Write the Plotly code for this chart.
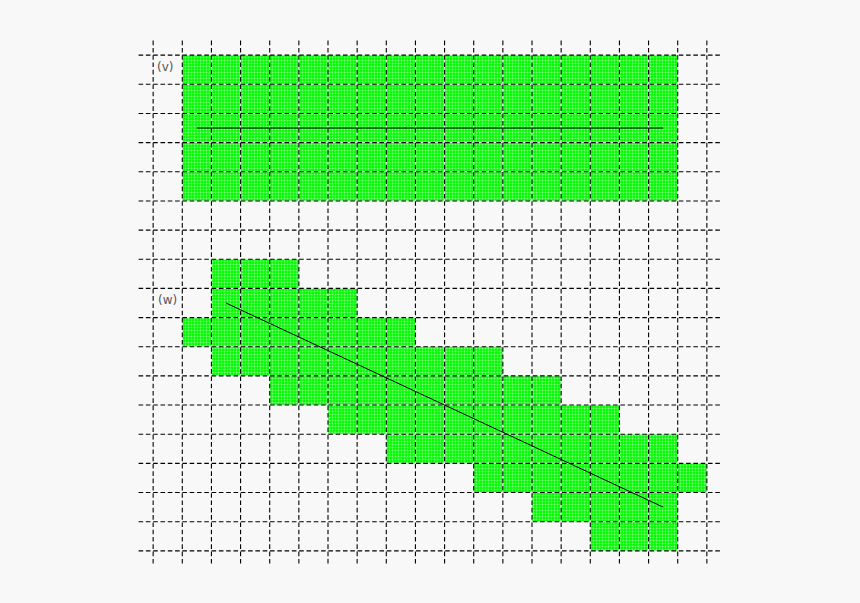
import plotly.graph_objects as go

# grid size (cells)
n_cols = 19
n_rows = 17

# region (v): one span of cells per row, end is exclusive
v_rows = [0, 1, 2, 3, 4]
v_start = [1, 1, 1, 1, 1]
v_end = [18, 18, 18, 18, 18]

# region (w)
w_rows = [7, 8, 9, 10, 11, 12, 13, 14, 15, 16]
w_start = [2, 2, 1, 2, 4, 6, 8, 11, 13, 15]
w_end = [5, 7, 9, 12, 14, 16, 18, 19, 18, 18]

# the two segments, from cell centre to cell centre
v_line_x = [1.5, 17.5]
v_line_y = [2.5, 2.5]
w_line_x = [2.5, 17.5]
w_line_y = [8.5, 15.5]

labels = ["(v)", "(w)"]
label_x = [0.42, 0.48]
label_y = [0.41, 8.4]

GREEN = "#00fa00"
BG = "#f8f8f8"


def cells(rows, starts, ends):
	xs, ys = [], []
	for r, s, e in zip(rows, starts, ends):
		for c in range(s, e):
			xs.append(c)
			ys.append(r + 0.5)
	return xs, ys


fig = go.Figure()

for rows, starts, ends in [(v_rows, v_start, v_end), (w_rows, w_start, w_end)]:
	base, ys = cells(rows, starts, ends)
	fig.add_trace(go.Bar(
		orientation="h",
		y=ys,
		x=[1] * len(ys),
		base=base,
		width=1,
		marker=dict(
			color=GREEN,
			line=dict(color="white", width=0.6),
			pattern=dict(shape=".", fgcolor="white", size=3, solidity=0.35),
		),
		hoverinfo="skip",
	))

# dashed grid drawn above the cells
gx, gy = [], []
for i in range(n_cols + 1):
	gx += [i, i, None]
	gy += [-0.5, n_rows + 0.5, None]
for j in range(n_rows + 1):
	gx += [-0.5, n_cols + 0.5, None]
	gy += [j, j, None]
fig.add_trace(go.Scatter(
	x=gx, y=gy, mode="lines",
	line=dict(color="black", width=1.1, dash="4.6px,2.7px"),
	hoverinfo="skip",
))

fig.add_trace(go.Scatter(x=v_line_x, y=v_line_y, mode="lines",
	line=dict(color="black", width=1), hoverinfo="skip"))
fig.add_trace(go.Scatter(x=w_line_x, y=w_line_y, mode="lines",
	line=dict(color="black", width=1), hoverinfo="skip"))

for t, x, y in zip(labels, label_x, label_y):
	fig.add_annotation(x=x, y=y, text=t, showarrow=False,
		font=dict(family="DejaVu Sans", size=12, color="#555555"))

fig.update_layout(
	width=860, height=603,
	margin=dict(l=124, r=124, t=26, b=23),
	paper_bgcolor=BG, plot_bgcolor=BG,
	showlegend=False, barmode="overlay",
	xaxis=dict(range=[-1, 20], visible=False, fixedrange=True),
	yaxis=dict(range=[18, -1], visible=False, fixedrange=True),
)

fig.write_html("out.html", config={"displayModeBar": False},
	post_script="document.body.style.margin='0';document.body.style.background='%s';" % BG)
